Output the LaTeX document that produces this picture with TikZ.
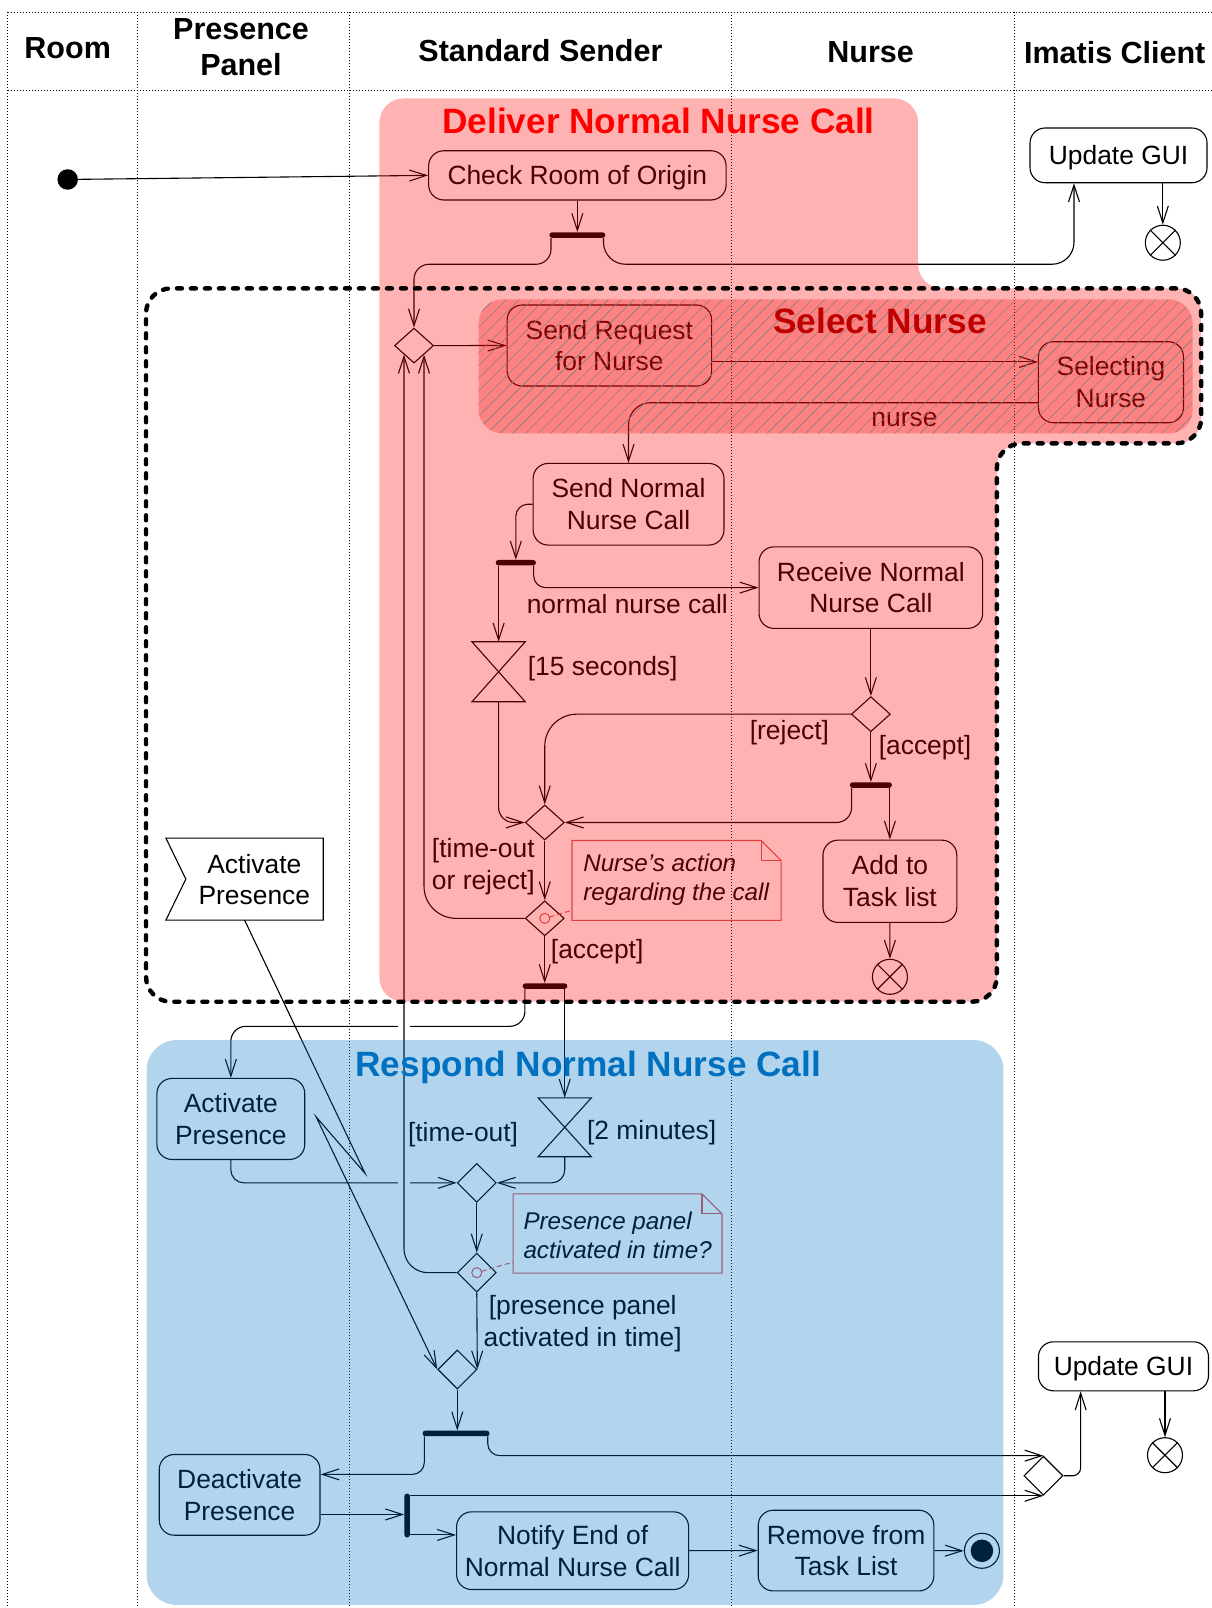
\documentclass[tikz,border=0pt]{standalone}
\usepackage{fontspec}
\setmainfont{Liberation Sans}
\usetikzlibrary{arrows.meta,shapes.geometric,calc,patterns.meta}
\definecolor{ovred}{RGB}{255,0,0}
\definecolor{ovblue}{RGB}{0,112,192}
\definecolor{selred}{RGB}{192,0,0}
\definecolor{notecol}{RGB}{216,88,88}
\tikzset{
 lane/.style={line width=0.9pt, dash pattern=on 1pt off 2pt},
 txt/.style={font=\fontsize{26.4}{31.8}\selectfont, inner sep=0pt, align=center},
 act/.style={draw, line width=1.1pt, rounded corners=15pt, align=center, inner sep=0pt, font=\fontsize{26.4}{31.8}\selectfont},
 dec/.style={draw, diamond, line width=1.1pt, inner sep=0pt, minimum width=39pt, minimum height=35pt},
 decb/.style={dec, minimum height=39pt},
 fbar/.style={fill, inner sep=0pt, rounded corners=2.7pt, minimum height=5.5pt},
 flow/.style={line width=1.1pt, -{Straight Barb[length=17pt,width=11pt]}, rounded corners=15pt},
 ffinal/.style={circle, draw, line width=1.1pt, minimum size=35pt, inner sep=0pt},
 hdr/.style={font=\bfseries\fontsize{30.5}{36}\selectfont, align=center, inner sep=0pt},
 ttl/.style={font=\bfseries\fontsize{35.2}{40}\selectfont, inner sep=0pt, anchor=base},
 notetxt/.style={font=\itshape\fontsize{24.2}{29}\selectfont, align=left, inner sep=0pt, anchor=west},
 notebox/.style={draw=notecol, line width=1.1pt},
 notelink/.style={draw=notecol, line width=1pt, dash pattern=on 5pt off 3pt, shorten <=5pt},
 bridge/.style={draw=white, line width=3.5pt},
}
\begin{document}
\begin{tikzpicture}[x=1.0254pt,y=-1.0254pt]
\useasboundingbox (0,0) rectangle (1181,1568);
% ---------- swimlanes
\draw[lane] (7.5,12) -- (1181,12);
\draw[lane] (7.5,88.5) -- (1181,88.5);
\foreach \x in {7.5,134,341.1,712.8,988.8} \draw[lane] (\x,12) -- (\x,1568);
\node[hdr] (hroom) at (66,47) {Room};
\node[hdr] (hpp) at (235,46) {Presence\\Panel};
\node[hdr] (hss) at (527,49) {Standard Sender};
\node[hdr] (hn) at (849,51) {Nurse};
\node[hdr] (hic) at (1087,51) {Imatis Client};

% ---------- nodes (upper part)
\node[circle, fill, minimum size=20.5pt, inner sep=0pt] (init) at (66,175) {};
\node[act, text depth=0pt, minimum width=297.4pt, minimum height=49.2pt] (check) at (563,171) {Check Room of Origin};
\node[fbar, minimum width=55.9pt] (bar1) at (563,229.2) {};
\node[act, text depth=0pt, minimum width=177pt, minimum height=54.7pt] (gui1) at (1090.7,151.5) {Update GUI};
\node[ffinal] (f1) at (1133.9,236.7) {};
\draw[line width=1.1pt] (f1.north west) -- (f1.south east) (f1.north east) -- (f1.south west);
\node[dec] (d1) at (403.7,337) {};
\node[act, minimum width=204.5pt, minimum height=81pt] (sendreq) at (594.2,336.9) {Send Request\\for Nurse};
\node[act, minimum width=145pt, minimum height=81pt] (selecting) at (1083.3,372.7) {Selecting\\Nurse};
\node[act, minimum width=190.8pt, minimum height=81.6pt] (sendnormal) at (612.9,491.7) {Send Normal\\Nurse Call};
\node[fbar, minimum width=40.2pt] (bar2) at (503,548.7) {};
\node[act, minimum width=223.6pt, minimum height=81.6pt] (receive) at (849.2,573) {Receive Normal\\Nurse Call};
% hourglass 1
\coordinate (h1t) at (486.2,625.8);
\coordinate (h1b) at (486.2,684.3);
\draw[line width=1.1pt] (460.2,625.8) -- (512.2,625.8) -- (460.2,684.3) -- (512.2,684.3) -- cycle;
\node[dec] (d3) at (849.2,696.4) {};
\node[fbar, minimum width=42.1pt] (bar3) at (849.2,765.5) {};
\node[act, minimum width=133.8pt, minimum height=82.3pt] (addtask) at (867.75,859.35) {Add to\\Task list};
\node[ffinal] (f3) at (867.8,952.5) {};
\draw[line width=1.1pt] (f3.north west) -- (f3.south east) (f3.north east) -- (f3.south west);
\node[dec] (d2) at (531.2,802) {};
\node[dec] (d4) at (531.2,895.5) {};
\node[fbar, minimum width=44.7pt] (bar4) at (531.4,961.6) {};

% accept event signal
\node[minimum width=156.9pt, minimum height=81.5pt, inner sep=0pt] (sig) at (238.5,857.25) {};
\draw[line width=1.1pt] (sig.north west) -- (sig.north east) -- (sig.south east) -- (sig.south west) -- ($(sig.west)+(19.4,0)$) -- cycle;
\node[txt] (sigtxt) at (248,857.6) {Activate\\Presence};

% ---------- nodes (lower part)
\node[act, minimum width=147.8pt, minimum height=81pt] (actb) at (225.1,1091.1) {Activate\\Presence};
\coordinate (h2t) at (550.7,1070.5);
\coordinate (h2b) at (550.7,1128);
\draw[line width=1.1pt] (524.7,1070.5) -- (576.7,1070.5) -- (524.7,1128) -- (576.7,1128) -- cycle;
\node[decb] (d5) at (464.9,1153.4) {};
\node[decb] (d6) at (464.9,1241) {};
\node[decb] (d7) at (445.9,1335.4) {};
\node[fbar, minimum width=67pt] (bar5) at (444.7,1397.8) {};
\node[act, minimum width=160.7pt, minimum height=80.7pt] (deact) at (233.65,1457.65) {Deactivate\\Presence};
\node[fbar, minimum width=5.5pt, minimum height=44pt] (bar6) at (397,1477.8) {};
\node[act, minimum width=232pt, minimum height=77.7pt] (notify) at (558.35,1512.1) {Notify End of\\Normal Nurse Call};
\node[act, minimum width=175.6pt, minimum height=80.7pt] (remove) at (825,1512) {Remove from\\Task List};
\node[circle, draw, line width=1.1pt, minimum size=35pt, inner sep=0pt] (fin) at (957.5,1512.2) {};
\fill (fin.center) circle (11);
\node[decb] (d8) at (1017.5,1439) {};
\node[act, text depth=0pt, minimum width=170pt, minimum height=49pt] (gui2) at (1095.5,1332.3) {Update GUI};
\node[ffinal] (f2) at (1136,1419) {};
\draw[line width=1.1pt] (f2.north west) -- (f2.south east) (f2.north east) -- (f2.south west);

% ---------- notes
\node[minimum width=208.7pt, minimum height=79.4pt, inner sep=0pt] (n1) at (659.75,858.5) {};
\draw[notebox] (n1.north west) -- ($(n1.north east)+(-19.5,0)$) -- ($(n1.north east)+(0,19.5)$) -- (n1.south east) -- (n1.south west) -- cycle;
\draw[notebox] ($(n1.north east)+(-19.5,0)$) -- ($(n1.north east)+(-19.5,19.5)$) -- ($(n1.north east)+(0,19.5)$);
\node[notetxt] (n1txt) at (568.6,858.3) {Nurse’s action\\regarding the call};
\draw[notecol, line width=1pt] (d4.center) circle (4.9);
\coordinate (n1l) at ($(n1.north west)!0.875!(n1.south west)$);
\draw[notelink] (d4.center) -- (n1l);

\node[minimum width=208.4pt, minimum height=78.8pt, inner sep=0pt] (n2) at (602.2,1202.8) {};
\draw[notebox] (n2.north west) -- ($(n2.north east)+(-19.5,0)$) -- ($(n2.north east)+(0,19.5)$) -- (n2.south east) -- (n2.south west) -- cycle;
\draw[notebox] ($(n2.north east)+(-19.5,0)$) -- ($(n2.north east)+(-19.5,19.5)$) -- ($(n2.north east)+(0,19.5)$);
\node[notetxt] (n2txt) at (510.3,1204.3) {Presence panel\\activated in time?};
\draw[notecol, line width=1pt] (d6.center) circle (4.9);
\coordinate (n2l) at ($(n2.north west)!0.86!(n2.south west)$);
\draw[notelink] (d6.center) -- (n2l);

% ---------- connectors
\draw[flow] (init) -- (check.west);
\draw[flow] (check.south) -- (bar1.north);
\draw[flow] ([xshift=1.8pt]bar1.south west) -- ++(0,25.6) -| (d1.north);
\coordinate (g1in) at ($(gui1.south west)!0.25!(gui1.south east)$);
\draw[flow, rounded corners=22pt] ([xshift=-2pt]bar1.south east) -- ++(0,25.6) -| (g1in);
\draw[flow] (gui1.south -| f1.north) -- (f1.north);
\draw[flow] (d1.east) -- (sendreq.west);
\coordinate (sr1) at ($(sendreq.north east)!0.7!(sendreq.south east)$);
\draw[flow] (sr1) -- (sr1 -| selecting.west);
\coordinate (sl1) at ($(selecting.north west)!0.75!(selecting.south west)$);
\draw[flow, rounded corners=22pt] (sl1) -| (sendnormal.north);
\draw[flow, rounded corners=12pt] (sendnormal.west) -| (bar2.north);
\draw[flow] (bar2.south -| h1t) -- (h1t);
\draw[flow, rounded corners=12pt] ([xshift=-2.5pt]bar2.south east) |- (receive.west);
\draw[flow] (h1b) |- (d2.west);
\draw[flow] (receive.south) -- (d3.north);
\draw[flow, rounded corners=32pt] (d3.west) -| (d2.north);
\draw[flow] (d3.south) -- (bar3.north);
\draw[flow] ([xshift=2pt]bar3.south west) |- (d2.east);
\draw[flow] (bar3.south -| addtask.north) -- (addtask.north);
\draw[flow] (addtask.south) -- (f3.north);
\draw[flow] (d2.south) -- (d4.north);
\draw[flow, rounded corners=32pt] (d4.west) -| (d1.south east);
\draw[flow] (d4.south) -- (d4.south |- bar4.north);
\draw[flow] ([xshift=2.5pt]bar4.south west) -- ++(0,36.3) -| (actb.north);
\draw[flow] (bar4.south -| h2t) -- (h2t);
\draw[flow, rounded corners=13pt] (h2b) |- (d5.east);
\draw[flow, rounded corners=13pt] (actb.south) |- (d5.west);
\draw[bridge] (388,1000.6) -- (400,1000.6);
\draw[bridge] (388,1153.4) -- (400,1153.4);
\draw[flow] (d5.south) -- (d6.north);
\draw[flow, rounded corners=24pt] (d6.west) -| (d1.south west);
\draw[flow] (d6.south) -- (d7.east);
\coordinate (z1) at (356,1144.2);
\coordinate (z2) at (308.2,1089);
\draw[flow, sharp corners] (sig.south) -- (z1) -- (z2) -- (d7.west);
\draw[flow] (d7.south) -- (d7.south |- bar5.north);
\coordinate (dein) at ($(deact.north east)!0.25!(deact.south east)$);
\draw[flow, rounded corners=12pt] ([xshift=2pt]bar5.south west) |- (dein);
\draw[flow, rounded corners=12pt] ([xshift=-2pt]bar5.south east) |- (d8.north);
\coordinate (deout) at ($(deact.north east)!0.74!(deact.south east)$);
\draw[flow] (deout) -- (deout -| bar6.west);
\draw[flow] (bar6.east |- d8.south) -- (d8.south);
\coordinate (noin) at ($(notify.north west)!0.3!(notify.south west)$);
\draw[flow] (noin -| bar6.east) -- (noin);
\draw[flow] (notify.east) -- (remove.west);
\draw[flow] (remove.east) -- (fin.west);
\coordinate (g2in) at ($(gui2.south west)!0.25!(gui2.south east)$);
\draw[flow, rounded corners=8pt] (d8.east) -| (g2in);
\draw[flow] (gui2.south -| f2.north) -- (f2.north);

% ---------- labels
\node[txt] (lnurse) at (882,408.9) {nurse};
\node[txt] (lnnc) at (611.7,589.5) {normal nurse call};
\node[txt, anchor=west] (l15) at (514.5,652) {[15 seconds]};
\node[txt] (lrej) at (769.8,714.5) {[reject]};
\node[txt] (lacc1) at (902,729) {[accept]};
\node[txt, align=left] (ltor) at (471.3,845.3) {[time-out\\or reject]};
\node[txt] (lacc2) at (582.3,928) {[accept]};
\node[txt] (l2m) at (635.5,1104) {[2 minutes]};
\node[txt] (lto) at (451.5,1106.7) {[time-out]};
\node[txt] (lppa) at (568.2,1290.6) {[presence panel\\activated in time]};

% ---------- region overlays
\fill[ovred, fill opacity=0.3, rounded corners=24pt] (370,500) -- (370,96) -- (895.3,96) -- (895.3,281.2) -- (1171.3,281.2) -- (1171.3,432.3) -- (972,432.3) -- (972,976.8) -- (370,976.8) -- cycle;
\fill[ovred, fill opacity=0.27, rounded corners=24pt] (466.7,291.9) rectangle (1163,422.6);
\fill[pattern={Lines[angle=45,distance=9pt,line width=0.6pt]}, pattern color=gray, fill opacity=0.35, rounded corners=24pt] (466.7,291.9) rectangle (1163,422.6);
\fill[ovblue, fill opacity=0.3, rounded corners=30pt] (143,1014.2) rectangle (978.5,1565);
\draw[line width=4.4pt, dash pattern=on 5pt off 9pt, line cap=round, rounded corners=25pt] (142.4,600) -- (142.4,281.2) -- (1171.3,281.2) -- (1171.3,432.3) -- (972,432.3) -- (972,976.8) -- (142.4,976.8) -- cycle;

% ---------- titles
\node[ttl, text=red] (tdeliver) at (642.2,130) {Deliver Normal Nurse Call};
\node[ttl, text=selred] (tselect) at (858.2,325) {Select Nurse};
\node[ttl, text=ovblue] (trespond) at (573.7,1049.3) {Respond Normal Nurse Call};
\end{tikzpicture}
\end{document}
